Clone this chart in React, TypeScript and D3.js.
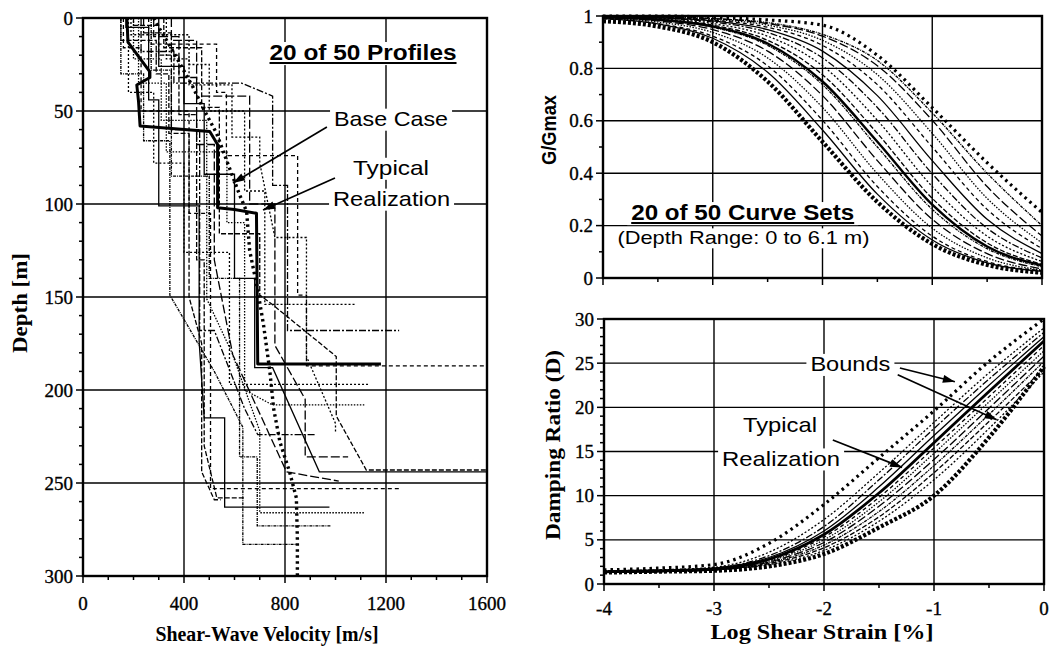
import React from 'react'
import * as d3 from 'd3'

type Pt = [number, number]

// ---- left panel: shear-wave velocity profiles, [velocity m/s, depth m]
const baseCase: Pt[] = [
  [280, 0], [300, 5], [344, 15], [390, 26], [435, 37], [474, 48], [529, 62], [581, 81], [620, 95], [648, 104],
  [660, 125], [690, 145], [715, 165], [740, 190], [755, 210], [780, 228], [818, 244], [845, 258], [849, 280], [849, 300],
]
const typicalProfile: Pt[] = [
  [174, 0], [178, 13], [265, 29], [265, 32], [213, 36], [220, 45], [226, 58], [502, 61], [533, 68], [533, 102],
  [600, 103], [687, 105], [692, 186], [1180, 186],
]
const profiles: Pt[][] = [
  [[150, 0], [150, 12], [290, 12], [290, 30], [340, 30], [340, 62], [420, 62], [420, 150], [470, 175], [470, 244], [520, 259], [545, 259]],
  [[190, 0], [190, 9], [420, 9], [420, 25], [500, 25], [500, 50], [640, 50], [640, 93], [720, 93], [720, 154], [1082, 154]],
  [[230, 0], [230, 18], [360, 18], [360, 35], [628, 35], [751, 42], [751, 90], [810, 90], [810, 168], [1252, 168]],
  [[170, 0], [170, 5], [260, 5], [260, 44], [300, 44], [300, 101], [460, 101], [460, 174], [480, 215], [561, 215], [561, 263], [976, 263]],
  [[260, 0], [260, 14], [529, 14], [529, 40], [568, 40], [568, 74], [850, 74], [850, 149], [885, 149], [885, 187], [1600, 187]],
  [[200, 0], [200, 22], [310, 22], [310, 55], [490, 55], [490, 151], [590, 180], [700, 222], [700, 266], [1114, 266]],
  [[280, 0], [280, 10], [380, 10], [380, 32], [450, 32], [450, 68], [520, 68], [520, 130], [593, 181], [806, 244], [1013, 249]],
  [[150, 0], [150, 30], [240, 30], [240, 66], [344, 66], [344, 149], [520, 190], [633, 220], [633, 283], [845, 283]],
  [[320, 0], [320, 16], [470, 16], [470, 48], [540, 48], [540, 116], [700, 116], [700, 149], [750, 154], [1003, 182], [1003, 214], [1122, 243], [1600, 243]],
  [[180, 0], [180, 40], [280, 40], [280, 78], [400, 78], [400, 126], [580, 126], [580, 197], [1130, 197]],
  [[240, 0], [240, 8], [350, 8], [350, 60], [462, 60], [462, 168], [520, 168], [640, 210], [692, 224], [924, 224]],
  [[300, 0], [300, 26], [400, 26], [400, 46], [480, 46], [480, 84], [600, 84], [600, 140], [680, 140], [680, 188], [751, 188], [936, 244], [1600, 244]],
  [[160, 0], [160, 16], [230, 16], [230, 50], [420, 50], [420, 105], [505, 105], [505, 253], [1253, 253]],
  [[220, 0], [220, 35], [330, 35], [330, 72], [570, 72], [570, 110], [640, 110], [640, 200], [750, 208], [1114, 208]],
  [[350, 0], [350, 12], [450, 12], [450, 42], [660, 42], [660, 100], [760, 100], [760, 176], [880, 205], [880, 236], [1050, 236]],
  [[270, 0], [270, 28], [350, 28], [350, 85], [500, 85], [500, 140], [620, 140], [620, 236], [690, 236], [690, 273], [980, 273]],
  [[200, 0], [200, 4], [300, 4], [300, 20], [380, 20], [380, 52], [450, 52], [450, 130], [480, 130], [480, 230], [530, 258], [640, 258]],
  [[330, 0], [330, 22], [420, 22], [420, 36], [590, 36], [590, 64], [700, 64], [700, 78], [760, 118], [885, 118], [885, 182], [1000, 218], [1000, 223]],
]
const velMajor = [0, 400, 800, 1200, 1600]
const depthMajor = [0, 50, 100, 150, 200, 250, 300]

// ---- right panels: x = log shear strain [%]
const logStrain = [-4, -3.5, -3, -2.5, -2, -1.5, -1, -0.5, 0]
const strainMajor = [-4, -3, -2, -1, 0]
const gMajor = [0, 0.2, 0.4, 0.6, 0.8, 1]
const dMajor = [0, 5, 10, 15, 20, 25, 30]

const gUpper = [1.0, 1.0, 0.995, 0.985, 0.965, 0.85, 0.65, 0.44, 0.25]
const gLower = [0.98, 0.96, 0.9, 0.75, 0.52, 0.29, 0.13, 0.05, 0.02]
const gCurves = [
  [0.99, 0.97, 0.915, 0.785, 0.565, 0.32, 0.145, 0.058, 0.025],
  [0.99, 0.971, 0.923, 0.81, 0.602, 0.349, 0.16, 0.063, 0.028],
  [0.992, 0.977, 0.937, 0.84, 0.651, 0.398, 0.19, 0.077, 0.03],
  [0.993, 0.981, 0.948, 0.866, 0.696, 0.448, 0.224, 0.093, 0.035],
  [0.994, 0.984, 0.957, 0.888, 0.738, 0.5, 0.262, 0.112, 0.043],
  [0.995, 0.987, 0.965, 0.907, 0.776, 0.552, 0.304, 0.134, 0.052],
  [0.996, 0.99, 0.971, 0.923, 0.81, 0.602, 0.349, 0.16, 0.063],
  [0.997, 0.992, 0.977, 0.937, 0.84, 0.651, 0.398, 0.19, 0.077],
  [0.998, 0.993, 0.981, 0.948, 0.866, 0.696, 0.448, 0.224, 0.093],
  [0.998, 0.994, 0.984, 0.957, 0.888, 0.738, 0.5, 0.262, 0.112],
  [0.998, 0.995, 0.987, 0.965, 0.907, 0.776, 0.552, 0.304, 0.134],
  [0.999, 0.996, 0.99, 0.971, 0.923, 0.81, 0.602, 0.349, 0.16],
  [0.999, 0.997, 0.99, 0.975, 0.93, 0.83, 0.63, 0.4, 0.2],
]
const gTypical = [0.995, 0.986, 0.96, 0.895, 0.75, 0.52, 0.28, 0.12, 0.048]

const dUpper = [1.6, 1.8, 2.2, 4.6, 9.0, 14.3, 19.6, 25.2, 30.0]
const dLower = [1.3, 1.4, 1.5, 2.0, 3.4, 6.4, 10.0, 16.6, 24.6]
const dCurves = [
  [1.5, 1.6, 1.9, 3.6, 7.3, 12.6, 18.3, 23.9, 29.0],
  [1.4, 1.5, 1.8, 3.2, 6.5, 11.8, 17.6, 23.2, 28.5],
  [1.4, 1.5, 1.8, 3.0, 6.0, 11.0, 16.8, 22.5, 28.0],
  [1.4, 1.5, 1.7, 2.7, 5.3, 9.8, 15.4, 21.2, 27.0],
  [1.4, 1.5, 1.7, 2.6, 5.0, 9.3, 14.8, 20.6, 26.4],
  [1.3, 1.4, 1.6, 2.5, 4.7, 8.8, 14.1, 19.9, 25.8],
  [1.3, 1.4, 1.6, 2.4, 4.4, 8.2, 13.4, 19.2, 25.2],
  [1.3, 1.4, 1.6, 2.3, 4.1, 7.6, 12.6, 18.4, 24.4],
  [1.3, 1.4, 1.6, 2.2, 3.8, 7.1, 11.8, 17.6, 24.0],
]
const dTypical = [1.4, 1.5, 1.7, 2.8, 5.6, 10.3, 16.0, 21.8, 27.5]

const serif = '"Liberation Serif", "Times New Roman", serif'
const sans = '"Liberation Sans", Arial, sans-serif'
const dashes = ['5,2', '2,2', '7,2,2,2', '', '4,3', '1.5,1.5', '9,3', '3,1,1,1']

// scales (pixel ranges)
const vx = d3.scaleLinear().domain([0, 1600]).range([83, 487])
const dy = d3.scaleLinear().domain([0, 300]).range([18, 576])
const gx = d3.scaleLinear().domain([-4, 0]).range([603, 1042])
const gy = d3.scaleLinear().domain([0, 1]).range([278, 16])
const hx = d3.scaleLinear().domain([-4, 0]).range([604, 1044])
const hy = d3.scaleLinear().domain([0, 30]).range([584, 319])

type Scale = d3.ScaleLinear<number, number>

function Grid({ x, y, xs, ys }: { x: Scale; y: Scale; xs: number[]; ys: number[] }) {
  const [x0, x1] = x.range()
  const [ya, yb] = y.range()
  const yTop = Math.min(ya, yb), yBot = Math.max(ya, yb)
  return (
    <g stroke="#000" strokeWidth={1.4}>
      {xs.slice(1, -1).map(v => <line key={'x' + v} x1={x(v)} x2={x(v)} y1={yTop} y2={yBot} />)}
      {ys.slice(1, -1).map(v => <line key={'y' + v} x1={x0} x2={x1} y1={y(v)} y2={y(v)} />)}
    </g>
  )
}

function Frame({ x, y, xs, ys, xMinor, yMinor, yFmt, xFmt, xLabelY }: {
  x: Scale; y: Scale; xs: number[]; ys: number[]; xMinor: number[]; yMinor: number[]
  yFmt: (v: number) => string; xFmt?: (v: number) => string; xLabelY?: number
}) {
  const [x0, x1] = x.range()
  const [ya, yb] = y.range()
  const yTop = Math.min(ya, yb), yBot = Math.max(ya, yb)
  return (
    <g>
      <rect x={x0} y={yTop} width={x1 - x0} height={yBot - yTop} fill="none" stroke="#000" strokeWidth={2.4} />
      <g stroke="#000" strokeWidth={1.5}>
        {ys.map(v => <line key={'ym' + v} x1={x0 - 7} x2={x0} y1={y(v)} y2={y(v)} />)}
        {yMinor.map(v => <line key={'yn' + v} x1={x0 - 4} x2={x0} y1={y(v)} y2={y(v)} />)}
        {xs.map(v => <line key={'xm' + v} x1={x(v)} x2={x(v)} y1={yBot} y2={yBot + 7} />)}
        {xMinor.map(v => <line key={'xn' + v} x1={x(v)} x2={x(v)} y1={yBot} y2={yBot + 4} />)}
      </g>
      <g fontFamily={serif} fontSize={19} fill="#000" stroke="#000" strokeWidth={0.35}>
        {ys.map(v => (
          <text key={'yl' + v} x={x0 - 10} y={y(v)} dy="0.35em" textAnchor="end">{yFmt(v)}</text>
        ))}
        {xFmt && xs.map(v => (
          <text key={'xl' + v} x={x(v)} y={xLabelY} textAnchor="middle">{xFmt(v)}</text>
        ))}
      </g>
    </g>
  )
}

function Label({ x, y, text, w, size = 21, bold = false, underline = false }: {
  x: number; y: number; text: string; w: number; size?: number; bold?: boolean; underline?: boolean
}) {
  return (
    <g>
      <rect x={x - w / 2 - 4} y={y - size * 0.82} width={w + 8} height={size * 1.05} fill="#fff" />
      <text x={x - w / 2} y={y} textLength={w} lengthAdjust="spacingAndGlyphs" fontFamily={sans}
        fontSize={size} fontWeight={bold ? 700 : 400} fill="#000">{text}</text>
      {underline && <line x1={x - w / 2} x2={x + w / 2} y1={y + 3} y2={y + 3} stroke="#000" strokeWidth={2} />}
    </g>
  )
}

function Arrow({ from, to }: { from: Pt; to: Pt }) {
  return <line x1={from[0]} y1={from[1]} x2={to[0]} y2={to[1]} stroke="#000" strokeWidth={1.7} markerEnd="url(#ah)" />
}

export default function App() {
  const profLine = d3.line<Pt>().x(p => vx(p[0])).y(p => dy(p[1]))
  const gLine = d3.line<number>().x((_, i) => gx(logStrain[i])).y(v => gy(v)).curve(d3.curveMonotoneX)
  const hLine = d3.line<number>().x((_, i) => hx(logStrain[i])).y(v => hy(v)).curve(d3.curveMonotoneX)

  const depthMinor = d3.range(10, 300, 10).filter(v => v % 50 !== 0)
  const velMinor = d3.range(100, 1600, 100).filter(v => v % 400 !== 0)
  const gMinor = [0.1, 0.3, 0.5, 0.7, 0.9]
  const sMinor = [-3.5, -2.5, -1.5, -0.5]
  const hMinor = d3.range(1, 30, 1).filter(v => v % 5 !== 0)

  return (
    <div style={{ position: 'absolute', left: 0, top: 0 }}>
      <svg width={1054} height={651} style={{ display: 'block', background: '#fff' }}>
        <defs>
          <marker id="ah" viewBox="0 0 12 8" refX={12} refY={4} markerWidth={13} markerHeight={8}
            markerUnits="userSpaceOnUse" orient="auto">
            <path d="M0,0 L12,4 L0,8 z" fill="#000" />
          </marker>
        </defs>

        {/* ---------- left: Vs profiles ---------- */}
        <Grid x={vx} y={dy} xs={velMajor} ys={depthMajor} />
        <Label x={vx(1109)} y={dy(22.6)} text="20 of 50 Profiles" w={187} size={22} bold underline />
        <Label x={vx(1220)} y={dy(58)} text="Base Case" w={114} />
        <Label x={vx(1220)} y={dy(84.4)} text="Typical" w={76} />
        <Label x={vx(1222)} y={dy(101)} text="Realization" w={117} />
        {profiles.map((p, i) => (
          <path key={i} d={profLine(p) ?? ''} fill="none" stroke="#000" strokeWidth={1.3}
            strokeDasharray={dashes[i % dashes.length]} />
        ))}
        <path d={profLine(baseCase) ?? ''} fill="none" stroke="#000" strokeWidth={3.4} strokeDasharray="2.5,3.5" />
        <path d={profLine(typicalProfile) ?? ''} fill="none" stroke="#000" strokeWidth={3} strokeLinejoin="round" />
        <Arrow from={[vx(966), dy(58.6)]} to={[vx(594), dy(88.7)]} />
        <Arrow from={[vx(998), dy(86)]} to={[vx(713), dy(103.2)]} />
        <Frame x={vx} y={dy} xs={velMajor} ys={depthMajor} xMinor={velMinor} yMinor={depthMinor}
          yFmt={v => String(v)} xFmt={v => String(v)} xLabelY={610} />
        <text transform="translate(27,303) rotate(-90)" textAnchor="middle" fontFamily={serif} fontWeight={700}
          fontSize={20} textLength={100} lengthAdjust="spacingAndGlyphs">Depth [m]</text>
        <text x={267} y={641} textAnchor="middle" fontFamily={serif} fontWeight={700} fontSize={20}
          textLength={223} lengthAdjust="spacingAndGlyphs">Shear-Wave Velocity [m/s]</text>

        {/* ---------- right top: G/Gmax ---------- */}
        <Grid x={gx} y={gy} xs={strainMajor} ys={gMajor} />
        <Label x={gx(-2.727)} y={gy(0.221)} text="20 of 50 Curve Sets" w={223} size={22} bold underline />
        <Label x={gx(-2.72)} y={gy(0.13)} text="(Depth Range: 0 to 6.1 m)" w={252} size={19} />
        {gCurves.map((c, i) => (
          <path key={i} d={gLine(c) ?? ''} fill="none" stroke="#000" strokeWidth={1.3}
            strokeDasharray={dashes[(i + 3) % dashes.length]} />
        ))}
        <path d={gLine(gTypical) ?? ''} fill="none" stroke="#000" strokeWidth={2.4} />
        <path d={gLine(gUpper) ?? ''} fill="none" stroke="#000" strokeWidth={3.2} strokeDasharray="2.5,4" />
        <path d={gLine(gLower) ?? ''} fill="none" stroke="#000" strokeWidth={4.2} strokeDasharray="3,2" />
        <Frame x={gx} y={gy} xs={strainMajor} ys={gMajor} xMinor={sMinor} yMinor={gMinor}
          yFmt={v => String(v)} />
        <text transform="translate(556,130) rotate(-90)" textAnchor="middle" fontFamily={sans} fontWeight={700}
          fontSize={21} textLength={70} lengthAdjust="spacingAndGlyphs">G/Gmax</text>

        {/* ---------- right bottom: damping ---------- */}
        <Grid x={hx} y={hy} xs={strainMajor} ys={dMajor} />
        <Label x={hx(-1.76)} y={hy(24.1)} text="Bounds" w={80} />
        <Label x={hx(-2.4)} y={hy(17.2)} text="Typical" w={74} />
        <Label x={hx(-2.39)} y={hy(13.4)} text="Realization" w={118} />
        {dCurves.map((c, i) => (
          <path key={i} d={hLine(c) ?? ''} fill="none" stroke="#000" strokeWidth={1.3}
            strokeDasharray={dashes[(i + 1) % dashes.length]} />
        ))}
        <path d={hLine(dTypical) ?? ''} fill="none" stroke="#000" strokeWidth={2.8} />
        <path d={hLine(dUpper) ?? ''} fill="none" stroke="#000" strokeWidth={3.2} strokeDasharray="2.5,4" />
        <path d={hLine(dLower) ?? ''} fill="none" stroke="#000" strokeWidth={4.2} strokeDasharray="3,2" />
        <Arrow from={[hx(-1.31), hy(24.45)]} to={[hx(-0.81), hy(22.9)]} />
        <Arrow from={[hx(-1.33), hy(23.7)]} to={[hx(-0.43), hy(18.6)]} />
        <Arrow from={[hx(-1.92), hy(16.3)]} to={[hx(-1.29), hy(13.2)]} />
        <Frame x={hx} y={hy} xs={strainMajor} ys={dMajor} xMinor={sMinor} yMinor={hMinor}
          yFmt={v => String(v)} xFmt={v => String(v)} xLabelY={615} />
        <text transform="translate(560,445) rotate(-90)" textAnchor="middle" fontFamily={serif} fontWeight={700}
          fontSize={20} textLength={190} lengthAdjust="spacingAndGlyphs">Damping Ratio (D)</text>
        <text x={822} y={639} textAnchor="middle" fontFamily={serif} fontWeight={700} fontSize={20}
          textLength={223} lengthAdjust="spacingAndGlyphs">Log Shear Strain [%]</text>
      </svg>
    </div>
  )
}
